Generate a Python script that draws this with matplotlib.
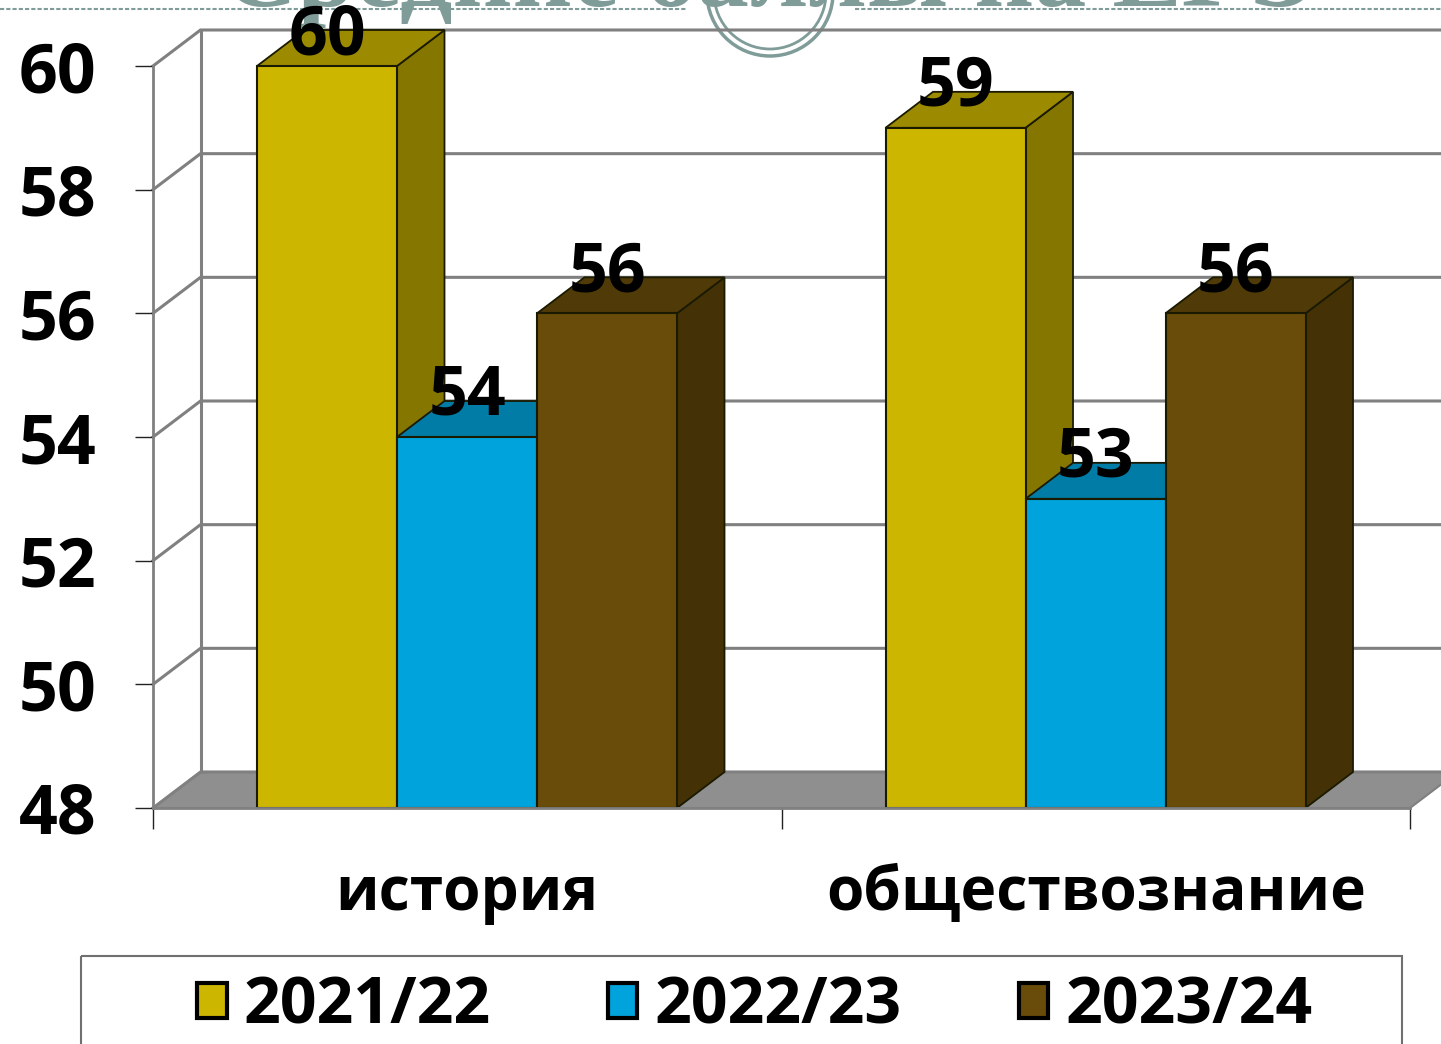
import numpy as np
import matplotlib
matplotlib.use('Agg')
import matplotlib.pyplot as plt
from matplotlib.patches import Polygon, Rectangle, Circle

plt.rcParams['font.family'] = ['Open Sans', 'DejaVu Sans']

subjects = ['история', 'обществознание']
years = ['2021/22', '2022/23', '2023/24']
vals_2021 = [60, 59]
vals_2022 = [54, 53]
vals_2023 = [56, 56]
yticks = [48, 50, 52, 54, 56, 58, 60]
title = 'Средние баллы на ЕГЭ'

front = ['#CDB600', '#00A3DB', '#694C09']
top = ['#9C8A00', '#007CA6', '#503A07']
side = ['#857600', '#006A8E', '#443105']
teal = '#7F9C98'

W, H = 1441, 1044
fig = plt.figure(figsize=(W / 100, H / 100), dpi=100)
ax = fig.add_axes([153 / W, (H - 808) / H, (1410 - 153) / W, (808 - 66) / H])
ax.set_xlim(0, 2)
ax.set_ylim(48, 60)
ax.patch.set_visible(False)

# depth of the fake 3d box, in data units
dx = 47.5 / 628.5
dy = 36 / 61.83

# slide background bits cut by the chart
bg = fig.add_axes([0, 0, 1, 1], zorder=-1)
bg.set_xlim(0, W)
bg.set_ylim(H, 0)
bg.axis('off')
bg.text(770, 6, title, color=teal, fontsize=75, fontweight='bold', family='Liberation Serif',
        ha='center', va='baseline')
bg.plot([0, 687], [9, 9], color=teal, lw=1.5, ls=(0, (2, 1)))
bg.plot([855, W], [9, 9], color=teal, lw=1.5, ls=(0, (2, 1)))
bg.add_patch(Circle((770, -7), 63, fc='none', ec=teal, lw=2.5))
bg.add_patch(Circle((770, -7), 56, fc='none', ec=teal, lw=2))

# walls and floor
ax.add_patch(Polygon([(0, 48), (dx, 48 + dy), (2 + dx, 48 + dy), (2, 48)], fc='#8F8F8F', ec='#808080',
                     lw=1.5, clip_on=False, zorder=1))
for y in yticks:
    ax.plot([0, dx, 2 + dx], [y, y + dy, y + dy], color='#808080', lw=2.2, clip_on=False, zorder=1)
ax.plot([dx, dx], [48 + dy, 60 + dy], color='#808080', lw=2.2, clip_on=False, zorder=1)

# bars, left to right so each front covers the depth of the one before
series = [vals_2021, vals_2022, vals_2023]
bar_w = 140 / 628.5
start = 104 / 628.5
handles = []
z = 2
for g in range(len(subjects)):
    for i, vals in enumerate(series):
        x = g + start + i * bar_w
        v = vals[g]
        ax.add_patch(Polygon([(x + bar_w, 48), (x + bar_w + dx, 48 + dy), (x + bar_w + dx, v + dy), (x + bar_w, v)],
                             fc=side[i], ec='#1a1a00', lw=1.3, clip_on=False, zorder=z))
        ax.add_patch(Polygon([(x, v), (x + dx, v + dy), (x + bar_w + dx, v + dy), (x + bar_w, v)],
                             fc=top[i], ec='#1a1a00', lw=1.3, clip_on=False, zorder=z))
        b = ax.bar(x, v - 48, bar_w, bottom=48, align='edge', color=front[i], edgecolor='#1a1a00', lw=1.5,
                   clip_on=False, zorder=z + 1)
        if g == 0:
            handles.append(b[0])
        label_y = min(v + 40 / 61.83, 60.47)
        ax.text(x + bar_w / 2, label_y, str(v), ha='center', va='center', fontsize=49, fontweight='bold',
                color='black', zorder=50)
        z += 2

# axes
for s in ['top', 'right']:
    ax.spines[s].set_visible(False)
ax.spines['left'].set_color('#808080')
ax.spines['left'].set_linewidth(2)
ax.spines['bottom'].set_color('#808080')
ax.spines['bottom'].set_linewidth(2)
ax.spines['bottom'].set_zorder(40)
ax.set_yticks(yticks)
ax.set_yticklabels(yticks, fontsize=49, fontweight='bold')
ax.tick_params(axis='y', length=13, width=1, color='#222222', pad=28)
ax.set_xticks([0, 1, 2])
ax.set_xticklabels([])
ax.tick_params(axis='x', which='major', length=15, width=1, color='#222222')
ax.set_xticks([0.5, 1.5], minor=True)
ax.set_xticklabels(subjects, minor=True, fontsize=43.5, fontweight='bold')
ax.tick_params(axis='x', which='minor', length=0, pad=40)

# legend box runs off the bottom of the picture
bg.add_patch(Rectangle((81, 956), 1321, 120, fc='none', ec='#707070', lw=1.5))
leg = fig.legend(handles, years, ncol=3, frameon=False,
                 prop={'size': 46.4, 'weight': 'bold'},
                 loc='center left', bbox_to_anchor=(197 / W, (H - 1007) / H), borderaxespad=0, borderpad=0,
                 handlelength=0.46, handleheight=0.46, handletextpad=0.26, columnspacing=1.82)
for h in leg.legend_handles:
    h.set_linewidth(3)
    h.set_edgecolor('black')

fig.savefig('out.png', dpi=100)
